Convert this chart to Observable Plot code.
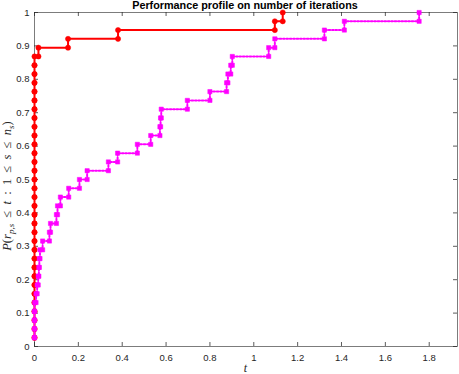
<!DOCTYPE html>
<html>
<head>
<meta charset="utf-8">
<script src="https://cdn.jsdelivr.net/npm/d3@7"></script>
<script src="https://cdn.jsdelivr.net/npm/@observablehq/plot@0.6"></script>
<style>
  html, body { margin: 0; padding: 0; background: #fff; }
  #chart svg { display: block; overflow: visible; }
</style>
</head>
<body>
<div id="chart"></div>
<script>
// ---- data ----
const nProblems = 38;
const redRatios = [
  0,0,0,0,0,0,0,0,0,0, 0,0,0,0,0,0,0,0,0,0, 0,0,0,0,0,0,0,0,0,0, 0,0,0,
  0.018, 0.153, 0.381, 1.096, 1.132
];
const magentaRatios = [
  0, 0, 0, 0, 0, 0.007, 0.012, 0.017, 0.02, 0.022,
  0.025, 0.037, 0.068, 0.073, 0.1, 0.105, 0.118, 0.156, 0.205, 0.24,
  0.337, 0.379, 0.469, 0.53, 0.572, 0.575, 0.578, 0.697, 0.8, 0.876,
  0.882, 0.895, 0.902, 1.068, 1.096, 1.322, 1.413, 1.754
];
const xTicks = [0, 0.2, 0.4, 0.6, 0.8, 1, 1.2, 1.4, 1.6, 1.8];
const yTicks = [0, 0.1, 0.2, 0.3, 0.4, 0.5, 0.6, 0.7, 0.8, 0.9, 1];
const titleText = "Performance profile on number of iterations";

// stairs vertices (MATLAB stairs)
function stairs(ratios) {
  const pts = [];
  const n = ratios.length;
  for (let i = 0; i < n; i++) {
    const y = (i + 1) / nProblems;
    pts.push({x: ratios[i], y});
    if (i < n - 1) pts.push({x: ratios[i + 1], y});
  }
  return pts;
}
const redPts = stairs(redRatios);
const magPts = stairs(magentaRatios);

const W = 459, H = 374;
const mL = 34, mR = 2, mT = 12, mB = 28;
const fw = W - mL - mR, fh = H - mT - mB;
const axisColor = "#262626";

const plot = Plot.plot({
  width: W, height: H,
  marginLeft: mL, marginRight: mR, marginTop: mT, marginBottom: mB,
  style: {fontFamily: "'Liberation Sans', Arial, sans-serif", fontSize: "9.5px", color: axisColor, background: "#fff"},
  x: {domain: [0, 1.929]},
  y: {domain: [0, 1]},
  marks: [
    Plot.frame({stroke: axisColor, strokeOpacity: 0.75, strokeWidth: 0.8}),
    Plot.tickX(xTicks, {x: d => d, stroke: axisColor, strokeOpacity: 0.75, insetTop: fh - 4}),
    Plot.tickX(xTicks, {x: d => d, stroke: axisColor, strokeOpacity: 0.75, insetBottom: fh - 4}),
    Plot.tickY(yTicks, {y: d => d, stroke: axisColor, strokeOpacity: 0.75, insetRight: fw - 4}),
    Plot.tickY(yTicks, {y: d => d, stroke: axisColor, strokeOpacity: 0.75, insetLeft: fw - 4}),
    Plot.axisX({ticks: xTicks, tickSize: 0, tickPadding: 8, label: null, tickFormat: d => String(d)}),
    Plot.axisY({ticks: yTicks, tickSize: 0, tickPadding: 5, label: null, tickFormat: d => String(d)}),
    Plot.line(redPts, {x: "x", y: "y", stroke: "#ff0000", strokeWidth: 2}),
    Plot.dot(redPts, {x: "x", y: "y", r: 2.6, fill: "#ff0000", stroke: "#ff0000", strokeWidth: 0.5}),
    Plot.line(magPts, {x: "x", y: "y", stroke: "#ff00ff", strokeWidth: 2, strokeDasharray: "1.6,1.8"}),
    Plot.dot(magPts, {x: "x", y: "y", r: 2.4, symbol: "square", fill: "#ff00ff", stroke: "#ff00ff", strokeWidth: 0.5})
  ]
});

const svg = d3.select(plot);
// title
svg.append("text")
  .attr("x", mL + fw / 2 - 0.5).attr("y", 9)
  .attr("text-anchor", "middle")
  .attr("font-family", "'Liberation Sans', Arial, sans-serif")
  .attr("font-weight", "bold")
  .attr("font-size", "10.8px")
  .attr("fill", "#000")
  .text(titleText);
// x label
svg.append("text")
  .attr("x", mL + fw / 2).attr("y", 372)
  .attr("text-anchor", "middle")
  .attr("font-family", "'Liberation Serif', 'DejaVu Serif', serif")
  .attr("font-style", "italic")
  .attr("font-size", "12px")
  .attr("fill", axisColor)
  .text("t");
// y label
const yl = svg.append("text")
  .attr("transform", `translate(11,186) rotate(-90)`)
  .attr("text-anchor", "middle")
  .attr("font-family", "'Liberation Serif', 'DejaVu Serif', serif")
  .attr("font-size", "12.5px")
  .attr("fill", axisColor)
  .attr("xml:space", "preserve")
  .style("white-space", "pre");
yl.append("tspan").attr("font-style", "italic").text("P");
yl.append("tspan").text("(");
yl.append("tspan").attr("font-style", "italic").text("r");
yl.append("tspan").attr("font-style", "italic").attr("font-size", "9px").attr("dy", 3).text("p,s");
yl.append("tspan").attr("dy", -3).text("  ≤  ");
yl.append("tspan").attr("font-style", "italic").text("t");
yl.append("tspan").text("  :  1  ≤  ");
yl.append("tspan").attr("font-style", "italic").text("s");
yl.append("tspan").text("  ≤  ");
yl.append("tspan").attr("font-style", "italic").text("n");
yl.append("tspan").attr("font-style", "italic").attr("font-size", "9px").attr("dy", 3).text("s");
yl.append("tspan").attr("dy", -3).text(")");

document.getElementById("chart").appendChild(plot);
</script>
</body>
</html>
